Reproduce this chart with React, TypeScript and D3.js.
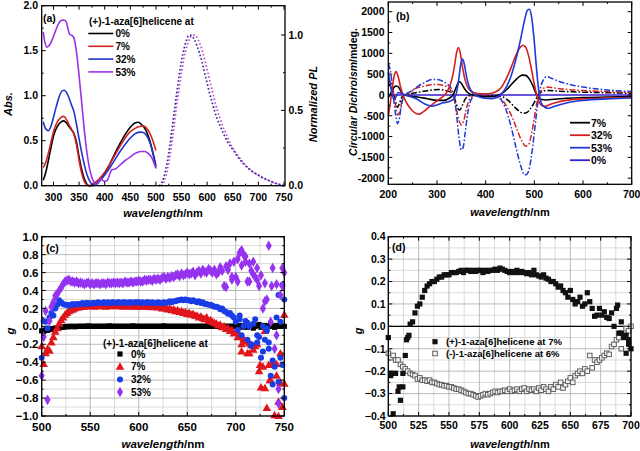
import React from "react";
import * as d3 from "d3";

const FONT = "'Liberation Sans', Arial, Helvetica, sans-serif";
type P = [number, number];

// ---------------- Panel (a): absorbance + normalized PL ----------------
const absLabels = ["0%", "7%", "32%", "53%"];
const absColors = ["#000000", "#d42020", "#2233cc", "#9933e6"];
const abs0: P[] = [[280,0.06],[285,0.15],[290,0.28],[295,0.42],[300,0.55],[305,0.63],[310,0.68],[315,0.71],[320,0.72],[325,0.7],[330,0.66],[335,0.62],[340,0.58],[345,0.48],[350,0.32],[355,0.18],[360,0.08],[365,0.02],[370,0.0],[375,0.0],[380,0.01],[385,0.03],[390,0.06],[400,0.14],[410,0.24],[420,0.36],[430,0.47],[440,0.57],[450,0.65],[460,0.7],[465,0.705],[470,0.69],[480,0.62],[490,0.46],[500,0.22]];
const abs7: P[] = [[280,0.2],[285,0.26],[290,0.36],[295,0.48],[300,0.6],[305,0.68],[310,0.73],[315,0.76],[320,0.77],[325,0.74],[330,0.68],[335,0.63],[340,0.57],[345,0.45],[350,0.28],[355,0.14],[360,0.05],[365,0.01],[370,0.0],[375,0.01],[380,0.03],[390,0.08],[400,0.15],[410,0.24],[420,0.34],[430,0.44],[440,0.53],[450,0.6],[460,0.64],[470,0.66],[475,0.665],[480,0.65],[490,0.56],[500,0.39]];
const abs32: P[] = [[280,0.71],[285,0.63],[290,0.61],[295,0.66],[300,0.76],[305,0.87],[310,0.97],[315,1.04],[320,1.06],[325,1.04],[330,0.98],[335,0.9],[340,0.82],[345,0.68],[350,0.52],[355,0.37],[360,0.24],[365,0.13],[370,0.06],[375,0.02],[380,0.01],[385,0.02],[390,0.05],[400,0.12],[410,0.2],[420,0.29],[430,0.38],[440,0.46],[450,0.53],[460,0.58],[470,0.595],[475,0.59],[480,0.57],[490,0.45],[500,0.2]];
const abs53: P[] = [[280,1.71],[283,1.6],[287,1.54],[292,1.56],[298,1.63],[304,1.72],[310,1.8],[315,1.835],[320,1.84],[325,1.82],[328,1.75],[332,1.68],[336,1.67],[340,1.64],[345,1.48],[350,1.22],[355,0.93],[360,0.63],[365,0.38],[370,0.2],[375,0.09],[380,0.03],[383,0.01],[387,0.03],[392,0.08],[396,0.06],[400,0.05],[405,0.06],[410,0.13],[414,0.18],[418,0.18],[422,0.19],[430,0.23],[440,0.28],[450,0.32],[460,0.36],[470,0.38],[478,0.38],[485,0.36],[492,0.31],[500,0.19]];
const plMagenta: P[] = [[510,0],[515,0.02],[520,0.07],[525,0.15],[530,0.26],[535,0.38],[540,0.52],[545,0.64],[550,0.75],[555,0.85],[560,0.92],[565,0.97],[570,0.995],[575,1.0],[580,0.985],[585,0.95],[590,0.9],[595,0.84],[600,0.77],[605,0.7],[610,0.63],[615,0.56],[620,0.5],[625,0.45],[630,0.4],[635,0.36],[640,0.32],[645,0.28],[650,0.25],[660,0.2],[670,0.155],[680,0.12],[690,0.09],[700,0.07],[710,0.05],[720,0.035],[730,0.02],[740,0.01],[750,0.0]];
const plNavy: P[] = [[506,0],[510,0.01],[515,0.05],[520,0.12],[525,0.22],[530,0.34],[535,0.47],[540,0.6],[545,0.72],[550,0.83],[555,0.91],[560,0.97],[565,1.0],[570,0.995],[575,0.97],[580,0.93],[585,0.88],[590,0.82],[595,0.75],[600,0.68],[605,0.61],[610,0.55],[615,0.49],[620,0.44],[625,0.4],[630,0.36],[640,0.29],[650,0.24],[660,0.19],[670,0.15],[680,0.115],[690,0.09],[700,0.07],[710,0.05],[720,0.035],[730,0.02],[740,0.01],[750,0.0]];
const aXTicks = [300,350,400,450,500,550,600,650,700,750];
const aYTicks = [0,0.5,1.0,1.5,2.0];
const aRTicks = [0,0.5,1.0];

// ---------------- Panel (b): circular dichroism ----------------
const cdLabels = ["7%", "32%", "53%", "0%"];
const cdColors = ["#000000", "#d42020", "#1f3ad8", "#3a1cd0"];
const cd7: P[] = [[200,-60],[205,40],[210,150],[215,215],[220,200],[225,110],[230,20],[240,-20],[260,-50],[280,-90],[300,-130],[315,-130],[325,-80],[333,0],[340,200],[345,320],[350,280],[355,180],[362,70],[370,10],[380,-20],[395,-40],[410,-40],[425,-10],[435,50],[445,150],[455,280],[465,400],[475,475],[482,470],[490,380],[497,220],[503,50],[508,-60],[515,-110],[525,-120],[540,-105],[560,-85],[600,-65],[650,-50],[700,-40]];
const cd32: P[] = [[200,-500],[204,-200],[208,150],[212,450],[216,560],[220,450],[225,200],[230,0],[238,-200],[248,-360],[258,-450],[263,-460],[270,-420],[285,-280],[300,-140],[312,-40],[322,100],[330,350],[336,700],[340,1000],[344,1140],[348,1000],[352,700],[358,350],[365,150],[375,60],[390,30],[405,30],[420,70],[432,180],[442,380],[452,650],[462,950],[470,1130],[476,1195],[482,1150],[488,950],[494,620],[500,250],[505,0],[510,-180],[516,-260],[522,-275],[530,-240],[545,-180],[565,-130],[600,-95],[650,-75],[700,-60]];
const cd53: P[] = [[200,550],[204,250],[208,0],[212,-100],[216,-40],[220,60],[226,40],[235,0],[245,-40],[260,-110],[275,-220],[290,-270],[300,-240],[312,-190],[325,-160],[334,-100],[340,50],[345,400],[349,750],[352,860],[356,750],[360,480],[366,200],[374,40],[385,-40],[400,-80],[412,-90],[422,-60],[432,20],[442,180],[452,450],[462,850],[472,1350],[480,1800],[486,2040],[490,2060],[494,1900],[499,1400],[504,700],[509,100],[514,-180],[520,-280],[527,-320],[535,-300],[550,-240],[570,-180],[600,-130],[650,-95],[700,-75]];
const cd0: P[] = [[200,0],[700,0]];
const cd7Mirror: P[] = [[200,250],[205,200],[210,60],[215,-150],[219,-300],[223,-200],[228,-50],[235,0],[250,40],[270,80],[290,120],[305,130],[320,100],[332,30],[338,-150],[343,-330],[347,-360],[352,-250],[358,-100],[366,-20],[380,0],[400,-20],[420,-20],[435,-50],[448,-150],[460,-300],[470,-400],[478,-440],[485,-420],[492,-330],[500,-180],[507,-20],[513,60],[520,100],[530,105],[550,90],[580,75],[620,60],[660,50],[700,40]];
const cd32Mirror: P[] = [[200,350],[205,300],[210,100],[215,-250],[219,-480],[223,-420],[228,-150],[235,0],[245,60],[255,150],[270,200],[285,240],[300,250],[315,220],[327,130],[334,-50],[340,-350],[345,-600],[350,-720],[355,-620],[360,-350],[367,-100],[378,0],[395,-20],[415,-30],[430,-80],[442,-250],[455,-550],[465,-850],[474,-1100],[482,-1230],[488,-1200],[494,-950],[500,-550],[506,-150],[512,60],[518,150],[525,190],[540,170],[560,140],[600,105],[650,80],[700,60]];
const cd53Mirror: P[] = [[200,750],[204,600],[208,250],[212,-200],[216,-550],[219,-690],[222,-600],[227,-250],[233,0],[242,60],[252,130],[262,220],[275,300],[290,370],[300,370],[312,330],[322,250],[330,150],[336,-100],[340,-450],[345,-1000],[350,-1320],[354,-1250],[358,-900],[363,-450],[370,-120],[380,0],[395,-30],[412,-40],[428,-80],[440,-300],[452,-750],[462,-1250],[472,-1700],[480,-1920],[485,-1900],[490,-1750],[496,-1300],[502,-700],[507,-200],[512,150],[518,350],[525,440],[535,400],[550,330],[570,260],[600,190],[650,120],[700,80]];
const bXTicks = [200,300,400,500,600,700];
const bYTicks = [-2000,-1500,-1000,-500,0,500,1000,1500,2000];

// ---------------- Panel (c): g-factor, 4 concentrations (sampled every 2 nm from 500 nm) ----------------
const gStart = 500;
const gStep = 2;
const gLabels = ["0%", "7%", "32%", "53%"];
const g0: number[] = [
  -0.05,-0.06,-0.04,-0.045,-0.035,-0.03,-0.025,-0.02,-0.02,-0.015,
  -0.01,-0.01,-0.005,0,-0.005,0,0,-0.005,0,0,
  0,0,0,0,0.005,0,0,0,0,0,
  0,0,0,0,0,0.005,0,0,0,0,
  0,0,0,0,0,0,0,0.005,0,0,
  0,0,0,0,0,0,0,0,0,0,
  0,0,0,0.005,0,0,0,0,0,0,
  0,0,0,0,0,0,0,0,0,0,
  0,0,0,0,0,0,0,0,0,0,
  0,0,0,0,0,0,0,0,0,0,
  0,-0.02,0.01,0,-0.01,0.02,-0.01,0,0.01,-0.02,
  0,0.01,0.02,-0.01,0,0.01,-0.01,0,0.02,0,
  -0.01,0.01,0,0.01,0,0];
const g7: number[] = [
  -0.22,-0.42,-0.3,-0.25,-0.27,-0.18,-0.12,-0.06,-0.02,0.03,
  0.07,0.1,0.13,0.15,0.17,0.18,0.19,0.2,0.21,0.21,
  0.22,0.22,0.22,0.225,0.23,0.225,0.23,0.22,0.23,0.225,
  0.23,0.225,0.23,0.22,0.23,0.225,0.23,0.23,0.225,0.23,
  0.225,0.23,0.22,0.23,0.225,0.23,0.22,0.23,0.225,0.22,
  0.23,0.22,0.225,0.22,0.23,0.22,0.22,0.215,0.22,0.22,
  0.21,0.22,0.2,0.21,0.2,0.19,0.2,0.18,0.19,0.17,
  0.18,0.16,0.17,0.15,0.16,0.14,0.15,0.13,0.14,0.12,
  0.12,0.1,0.11,0.09,0.08,0.1,0.06,0.07,0.05,0.04,
  0.03,0.01,0.02,-0.01,0.0,-0.03,-0.02,-0.05,-0.04,-0.08,
  -0.07,-0.12,-0.1,-0.28,-0.14,-0.17,-0.3,-0.19,-0.21,-0.26,
  -0.22,-0.2,-0.5,-0.68,-0.45,-0.69,-0.91,-0.43,-0.6,-0.41,
  -0.99,-0.55,-0.84,-0.63,-0.9,0.13];
const g32: number[] = [
  -0.35,0.06,0.05,-0.02,0.1,0.15,0.12,0.2,0.24,0.29,
  0.27,0.25,0.24,0.24,0.23,0.24,0.25,0.24,0.25,0.25,
  0.25,0.26,0.25,0.26,0.26,0.25,0.26,0.26,0.26,0.27,
  0.26,0.26,0.27,0.26,0.27,0.26,0.27,0.27,0.26,0.27,
  0.27,0.26,0.27,0.27,0.26,0.27,0.27,0.26,0.27,0.27,
  0.27,0.26,0.27,0.26,0.27,0.27,0.26,0.27,0.26,0.26,
  0.27,0.26,0.26,0.27,0.26,0.27,0.28,0.27,0.28,0.28,
  0.29,0.29,0.3,0.29,0.3,0.29,0.29,0.28,0.29,0.28,
  0.27,0.28,0.26,0.27,0.25,0.25,0.24,0.24,0.23,0.22,
  0.22,0.21,0.19,0.2,0.17,0.16,0.14,0.15,0.12,0.1,
  0.05,-0.04,0.08,-0.1,0.0,0.06,-0.15,0.0,-0.2,0.03,
  0.08,-0.18,-0.12,-0.35,0.0,-0.15,-0.05,-0.25,-0.55,-0.65,
  -0.45,0.1,0.35,-0.35,0.46,-0.8];
const g53: number[] = [
  -0.55,-0.12,0.17,-0.82,0.06,0.22,0.27,0.34,0.36,0.4,
  0.43,0.47,0.5,0.51,0.52,0.5,0.5,0.49,0.5,0.48,
  0.49,0.48,0.47,0.48,0.49,0.47,0.48,0.47,0.48,0.48,
  0.47,0.48,0.48,0.47,0.49,0.48,0.48,0.49,0.48,0.49,
  0.48,0.49,0.48,0.5,0.49,0.49,0.5,0.49,0.5,0.5,
  0.51,0.5,0.5,0.52,0.51,0.52,0.52,0.51,0.53,0.52,
  0.53,0.52,0.54,0.55,0.53,0.55,0.54,0.56,0.55,0.57,
  0.58,0.56,0.59,0.57,0.58,0.6,0.58,0.59,0.61,0.57,
  0.6,0.62,0.59,0.63,0.61,0.6,0.64,0.62,0.6,0.63,
  0.58,0.6,0.66,0.62,0.45,0.67,0.63,0.7,0.55,0.72,
  0.55,0.75,0.82,0.68,0.8,0.72,0.5,0.7,0.62,0.58,
  0.55,0.65,0.45,0.57,0.2,0.48,0.3,0.9,0.05,0.65,
  -0.25,0.47,-0.7,0.35,0.45,0.6];
// extra scattered points in the noisy tail
const g7Extra: P[] = [[706,-0.2],[714,-0.3],[725,-0.43],[730,-0.05],[735,-0.6],[742,-0.42],[744,-1.0],[746,-0.3],[748,-0.9],[750,-0.64]];
const g32Extra: P[] = [[704,0.12],[712,0.04],[716,-0.22],[722,-0.1],[728,-0.28],[732,-0.02],[734,-0.18],[738,-0.38],[744,-0.62],[746,0.05],[748,-0.43],[750,0.3]];
const g53Extra: P[] = [[690,0.44],[696,0.52],[702,0.5],[706,0.85],[710,0.78],[714,0.5],[718,0.72],[722,0.52],[730,0.28],[737,0.45],[742,-0.1],[744,-0.86],[748,0.65]];
const cXTicks = [500,550,600,650,700,750];
const cYTicks = [-1.0,-0.8,-0.6,-0.4,-0.2,0.0,0.2,0.4,0.6,0.8,1.0];

// ---------------- Panel (d): enantiomers (sampled every 2 nm from 500 nm) ----------------
const dLabels = ["(+)-1-aza[6]helicene at 7%", "(-)-1-aza[6]helicene at 6%"];
const gPlus7: number[] = [
  -0.05,-0.22,-0.39,-0.21,-0.29,-0.33,-0.21,-0.13,-0.05,0.01,
  0.02,0.06,0.09,0.1,0.13,0.16,0.18,0.19,0.2,0.2,
  0.21,0.22,0.22,0.23,0.23,0.23,0.24,0.24,0.24,0.245,
  0.25,0.24,0.25,0.25,0.245,0.25,0.245,0.25,0.25,0.24,
  0.25,0.245,0.25,0.25,0.255,0.25,0.26,0.255,0.25,0.245,
  0.24,0.245,0.24,0.25,0.24,0.245,0.24,0.235,0.24,0.23,
  0.25,0.23,0.225,0.22,0.23,0.215,0.21,0.2,0.2,0.19,
  0.175,0.18,0.16,0.15,0.13,0.16,0.12,0.1,0.11,0.13,
  0.09,0.1,0.15,0.11,0.08,0.045,0.05,0.08,0.05,0.065,
  0.04,0.035,0.06,0.0,0.08,-0.03,0.02,-0.05,-0.04,-0.08,
  -0.1];
const gPlus7Extra: P[] = [[502,-0.21],[505.5,-0.21],[509,-0.27],[512,-0.27],[515,-0.06],[517,-0.04],[689,0.095],[692,-0.03],[696,-0.12],[698,-0.06]];
const gMinus6: number[] = [
  -0.12,-0.14,-0.13,-0.15,-0.15,-0.17,-0.18,-0.19,-0.2,-0.21,
  -0.215,-0.22,-0.235,-0.23,-0.24,-0.24,-0.245,-0.24,-0.25,-0.25,
  -0.255,-0.26,-0.26,-0.265,-0.265,-0.27,-0.27,-0.275,-0.28,-0.28,
  -0.285,-0.29,-0.295,-0.3,-0.3,-0.305,-0.31,-0.315,-0.31,-0.305,
  -0.3,-0.305,-0.3,-0.295,-0.29,-0.295,-0.29,-0.29,-0.285,-0.29,
  -0.28,-0.29,-0.285,-0.28,-0.29,-0.28,-0.275,-0.29,-0.28,-0.285,
  -0.28,-0.29,-0.275,-0.285,-0.27,-0.28,-0.29,-0.27,-0.28,-0.26,
  -0.27,-0.25,-0.275,-0.26,-0.245,-0.23,-0.25,-0.22,-0.21,-0.2,
  -0.21,-0.19,-0.2,-0.13,-0.185,-0.15,-0.16,-0.15,-0.14,-0.13,
  -0.12,-0.125,-0.09,-0.08,-0.06,-0.05,-0.1,-0.04,-0.01,-0.02,
  0.0];
const dXTicks = [500,525,550,575,600,625,650,675,700];
const dYTicks = [-0.4,-0.3,-0.2,-0.1,0.0,0.1,0.2,0.3,0.4];

// ---------------- helpers ----------------
const toPairs = (vals: number[]): P[] => vals.map((v, i) => [gStart + i * gStep, v]);
const mids = (t: number[]) => t.slice(1).map((v, i) => (v + t[i]) / 2);

function XTicks({ s, ticks, y0, y1, labelY, fs, fmt, minor = true }: any) {
  const mn = minor ? mids(ticks) : [];
  return (
    <g stroke="#000" strokeWidth={1}>
      {ticks.map((t: number) => (
        <g key={"M" + t}>
          <line x1={s(t)} x2={s(t)} y1={y0} y2={y0 - 4} />
          <line x1={s(t)} x2={s(t)} y1={y1} y2={y1 + 4} />
          <text x={s(t)} y={labelY} textAnchor="middle" stroke="none" fill="#000" fontSize={fs} fontWeight="bold">{fmt(t)}</text>
        </g>
      ))}
      {mn.map((t: number) => (
        <g key={"m" + t}>
          <line x1={s(t)} x2={s(t)} y1={y0} y2={y0 - 2} />
          <line x1={s(t)} x2={s(t)} y1={y1} y2={y1 + 2} />
        </g>
      ))}
    </g>
  );
}

function YTicks({ s, ticks, x0, x1, labelX, fs, fmt, right = true, labelsRight = false }: any) {
  const mn = mids(ticks);
  return (
    <g stroke="#000" strokeWidth={1}>
      {ticks.map((t: number) => (
        <g key={"M" + t}>
          {!labelsRight && <line x1={x0} x2={x0 + 4} y1={s(t)} y2={s(t)} />}
          {right && <line x1={x1} x2={x1 - 4} y1={s(t)} y2={s(t)} />}
          <text x={labelX} y={s(t) + fs * 0.36} textAnchor={labelsRight ? "start" : "end"} stroke="none" fill="#000" fontSize={fs} fontWeight="bold">{fmt(t)}</text>
        </g>
      ))}
      {mn.map((t: number) => (
        <g key={"m" + t}>
          {!labelsRight && <line x1={x0} x2={x0 + 2} y1={s(t)} y2={s(t)} />}
          {right && <line x1={x1} x2={x1 - 2} y1={s(t)} y2={s(t)} />}
        </g>
      ))}
    </g>
  );
}

function Grid({ xs, ys, xt, yt, x0, x1, y0, y1 }: any) {
  const xm = mids(xt), ym = mids(yt);
  return (
    <g strokeWidth={0.8}>
      {xm.map((t: number) => <line key={"xm" + t} x1={xs(t)} x2={xs(t)} y1={y0} y2={y1} stroke="#d2d2d2" />)}
      {ym.map((t: number) => <line key={"ym" + t} y1={ys(t)} y2={ys(t)} x1={x0} x2={x1} stroke="#d2d2d2" />)}
      {xt.map((t: number) => <line key={"xt" + t} x1={xs(t)} x2={xs(t)} y1={y0} y2={y1} stroke="#a8a8a8" />)}
      {yt.map((t: number) => <line key={"yt" + t} y1={ys(t)} y2={ys(t)} x1={x0} x2={x1} stroke="#a8a8a8" />)}
    </g>
  );
}

function WaveTitle({ x, y, fs }: any) {
  return (
    <text x={x} y={y} textAnchor="middle" fontSize={fs} fontWeight="bold">
      <tspan fontStyle="italic">wavelength</tspan>/nm
    </text>
  );
}

const f1 = d3.format(".1f");
const f0 = (v: number) => String(v);

// symbols
const triPath = d3.symbol(d3.symbolTriangle, 32)()!;
const diaPath = d3.symbol(d3.symbolDiamond, 32)()!;

function Marker({ kind, x, y, color }: any) {
  if (kind === "square") return <rect x={x - 2.6} y={y - 2.6} width={5.2} height={5.2} fill={color} />;
  if (kind === "open") return <rect x={x - 2.3} y={y - 2.3} width={4.6} height={4.6} fill="#f2f2f2" stroke="#555" strokeWidth={0.9} />;
  if (kind === "tri") return <path d={triPath} transform={`translate(${x},${y + 0.6})`} fill={color} />;
  if (kind === "circle") return <circle cx={x} cy={y} r={3.0} fill={color} />;
  return <path d={diaPath} transform={`translate(${x},${y})`} fill={color} />;
}

export default function App() {
  // ----- panel a scales
  const xa = d3.scaleLinear().domain([277, 752]).range([41.7, 285]);
  const ya = d3.scaleLinear().domain([0, 2]).range([185.7, 5.7]);
  const yaR = d3.scaleLinear().domain([0, 1.1944]).range([185.7, 5.7]);
  const lineA = d3.line<P>().x(d => xa(d[0])).y(d => ya(d[1])).curve(d3.curveMonotoneX);
  const lineAR = d3.line<P>().x(d => xa(d[0])).y(d => yaR(d[1])).curve(d3.curveMonotoneX);
  const absSeries = [abs0, abs7, abs32, abs53];

  // ----- panel b scales
  const xb = d3.scaleLinear().domain([200, 700]).range([388.3, 631.7]);
  const yb = d3.scaleLinear().domain([-2147, 2233]).range([184.3, 2]);
  const lineB = d3.line<P>().x(d => xb(d[0])).y(d => yb(d[1])).curve(d3.curveMonotoneX);
  const cdSolid = [cd7, cd32, cd53];
  const cdDash = [cd7Mirror, cd32Mirror, cd53Mirror];

  // ----- panel c scales
  const xc = d3.scaleLinear().domain([500, 750]).range([41.7, 284.3]);
  const yc = d3.scaleLinear().domain([-1, 1]).range([416, 236.7]);
  const cSeries = [
    { pts: toPairs(g0), kind: "square", color: "#000000" },
    { pts: toPairs(g7).concat(g7Extra), kind: "tri", color: "#e0161b" },
    { pts: toPairs(g32).concat(g32Extra), kind: "circle", color: "#1a3ce6" },
    { pts: toPairs(g53).concat(g53Extra), kind: "dia", color: "#9533f0" },
  ];

  // ----- panel d scales
  const xd = d3.scaleLinear().domain([500, 700]).range([388.3, 631]);
  const yd = d3.scaleLinear().domain([-0.4, 0.4]).range([416, 236.7]);
  const dPlus = toPairs(gPlus7).concat(gPlus7Extra);
  const dMinus = toPairs(gMinus6);

  return (
    <svg width={640} height={451} style={{ position: "absolute", left: 0, top: 0, background: "#fff" }} fontFamily={FONT}>
      <rect x={0} y={0} width={640} height={451} fill="#fff" />

      {/* ================= (a) ================= */}
      <g>
        {absSeries.map((s, i) => (
          <path key={i} d={lineA(s)!} fill="none" stroke={absColors[i]} strokeWidth={1.6} />
        ))}
        <path d={lineAR(plMagenta)!} fill="none" stroke="#cc44d4" strokeWidth={1.7} strokeDasharray="1.6,2.2" />
        <path d={lineAR(plNavy)!} fill="none" stroke="#2c2c9c" strokeWidth={1.7} strokeDasharray="1.6,2.2" />
        <rect x={41.7} y={5.7} width={285 - 41.7} height={180} fill="none" stroke="#000" strokeWidth={1.3} />
        <XTicks s={xa} ticks={aXTicks} y0={185.7} y1={5.7} labelY={201} fs={10.5} fmt={f0} />
        <YTicks s={ya} ticks={aYTicks} x0={41.7} x1={285} labelX={38} fs={10.5} fmt={f1} right={false} />
        <YTicks s={yaR} ticks={aRTicks} x0={41.7} x1={285} labelX={288.5} fs={10.5} fmt={f1} right={true} labelsRight={true} />
        <text transform="translate(12,104) rotate(-90)" textAnchor="middle" fontSize={11} fontWeight="bold" fontStyle="italic">Abs.</text>
        <text transform="translate(317,104) rotate(-90)" textAnchor="middle" fontSize={11} fontWeight="bold" fontStyle="italic">Normalized PL</text>
        <WaveTitle x={163} y={217} fs={11} />
        <text x={43} y={22} fontSize={10.5} fontWeight="bold">(a)</text>
        <text x={89} y={24.5} fontSize={10} fontWeight="bold">(+)-1-aza[6]helicene at</text>
        {absLabels.map((l, i) => (
          <g key={l}>
            <line x1={88.3} x2={113.3} y1={33.5 + i * 12.8} y2={33.5 + i * 12.8} stroke={absColors[i]} strokeWidth={1.6} />
            <text x={115.5} y={37.2 + i * 12.8} fontSize={10} fontWeight="bold">{l}</text>
          </g>
        ))}
      </g>

      {/* ================= (b) ================= */}
      <g>
        <path d={lineB(cd0)!} fill="none" stroke={cdColors[3]} strokeWidth={1.6} />
        {cdDash.map((s, i) => (
          <path key={"d" + i} d={lineB(s)!} fill="none" stroke={cdColors[i]} strokeWidth={1.5} strokeDasharray="6,2,1.6,2" />
        ))}
        {cdSolid.map((s, i) => (
          <path key={"s" + i} d={lineB(s)!} fill="none" stroke={cdColors[i]} strokeWidth={1.6} />
        ))}
        <rect x={388.3} y={2} width={631.7 - 388.3} height={182.3} fill="none" stroke="#000" strokeWidth={1.3} />
        <XTicks s={xb} ticks={bXTicks} y0={184.3} y1={2} labelY={197.5} fs={10.5} fmt={f0} />
        <YTicks s={yb} ticks={bYTicks} x0={388.3} x1={631.7} labelX={384.5} fs={10.5} fmt={f0} />
        <text transform="translate(357,92) rotate(-90)" textAnchor="middle" fontSize={10.5} fontWeight="bold">
          <tspan fontStyle="italic">Circular Dichroism</tspan>/mdeg.
        </text>
        <WaveTitle x={510} y={216} fs={11} />
        <text x={396} y={19.5} fontSize={10.5} fontWeight="bold">(b)</text>
        {cdLabels.map((l, i) => (
          <g key={l}>
            <line x1={570} x2={590} y1={122.7 + i * 12.5} y2={122.7 + i * 12.5} stroke={cdColors[i]} strokeWidth={1.8} />
            <text x={591} y={126.5 + i * 12.5} fontSize={10.5} fontWeight="bold">{l}</text>
          </g>
        ))}
      </g>

      {/* ================= (c) ================= */}
      <g>
        <Grid xs={xc} ys={yc} xt={cXTicks} yt={cYTicks} x0={41.7} x1={284.3} y0={416} y1={236.7} />
        {cSeries.map((s, i) => (
          <g key={i}>
            {s.pts.map((p, j) => (
              <Marker key={j} kind={s.kind} x={xc(p[0])} y={yc(p[1])} color={s.color} />
            ))}
          </g>
        ))}
        <rect x={41.7} y={236.7} width={284.3 - 41.7} height={416 - 236.7} fill="none" stroke="#000" strokeWidth={1.3} />
        <XTicks s={xc} ticks={cXTicks} y0={416} y1={236.7} labelY={431} fs={11.5} fmt={f0} />
        <YTicks s={yc} ticks={cYTicks} x0={41.7} x1={284.3} labelX={38.5} fs={11.5} fmt={f1} />
        <text transform="translate(14,331) rotate(-90)" textAnchor="middle" fontSize={11.5} fontWeight="bold" fontStyle="italic">g</text>
        <WaveTitle x={163} y={448} fs={11.5} />
        <text x={46} y={252} fontSize={10.5} fontWeight="bold">(c)</text>
        <text x={103} y={346.5} fontSize={10} fontWeight="bold">(+)-1-aza[6]helicene at</text>
        {gLabels.map((l, i) => (
          <g key={l}>
            <Marker kind={cSeries[i].kind} x={120} y={354 + i * 12.7} color={cSeries[i].color} />
            <text x={131} y={357.6 + i * 12.7} fontSize={10} fontWeight="bold">{l}</text>
          </g>
        ))}
      </g>

      {/* ================= (d) ================= */}
      <g>
        <Grid xs={xd} ys={yd} xt={dXTicks} yt={dYTicks} x0={388.3} x1={631} y0={416} y1={236.7} />
        <line x1={388.3} x2={631} y1={yd(0)} y2={yd(0)} stroke="#000" strokeWidth={1.2} />
        {dMinus.map((p, j) => <Marker key={"m" + j} kind="open" x={xd(p[0])} y={yd(p[1])} />)}
        {dPlus.map((p, j) => <Marker key={"p" + j} kind="square" x={xd(p[0])} y={yd(p[1])} color="#111" />)}
        <rect x={388.3} y={236.7} width={631 - 388.3} height={416 - 236.7} fill="none" stroke="#000" strokeWidth={1.3} />
        <XTicks s={xd} ticks={dXTicks} y0={416} y1={236.7} labelY={428.5} fs={10.5} fmt={f0} />
        <YTicks s={yd} ticks={dYTicks} x0={388.3} x1={631} labelX={385.5} fs={10.5} fmt={f1} />
        <text transform="translate(362,331) rotate(-90)" textAnchor="middle" fontSize={11} fontWeight="bold" fontStyle="italic">g</text>
        <WaveTitle x={510} y={448} fs={11} />
        <text x={392} y={251} fontSize={10.5} fontWeight="bold">(d)</text>
        <Marker kind="square" x={435} y={341.7} color="#111" />
        <text x={446} y={345} fontSize={9.5} fontWeight="bold">{dLabels[0]}</text>
        <Marker kind="open" x={435} y={353.5} />
        <text x={446} y={357} fontSize={9.5} fontWeight="bold">{dLabels[1]}</text>
      </g>
    </svg>
  );
}
